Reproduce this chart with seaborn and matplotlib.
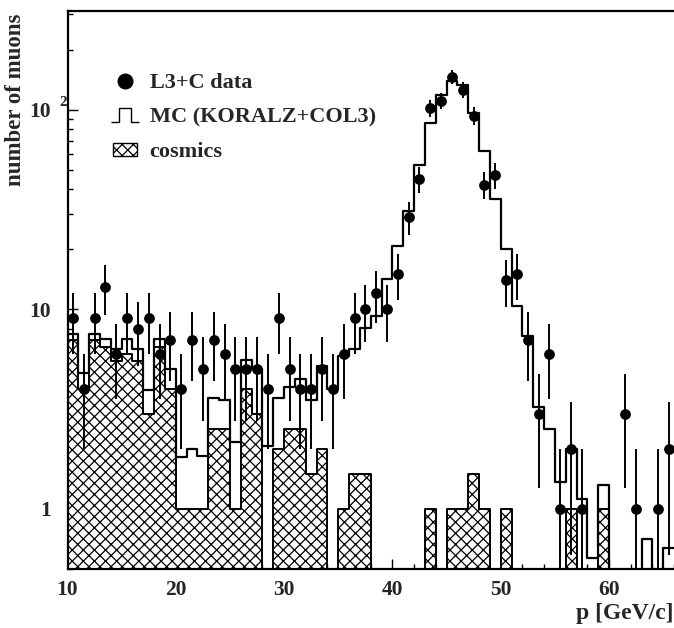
import numpy as np
import pandas as pd
import matplotlib
matplotlib.use("Agg")
import matplotlib.pyplot as plt
import matplotlib.transforms as mtransforms
import seaborn as sns
from matplotlib.lines import Line2D
from matplotlib.patches import Patch
from matplotlib.path import Path
from matplotlib.ticker import FixedLocator, MultipleLocator, LogLocator, NullFormatter, FixedFormatter

# ---------------- data (1 GeV/c bins from 10 to 66 GeV/c) ----------------
p_range = (10, 66)
bin_width = 1.0

data_counts = [9, 4, 9, 13, 6, 9, 8, 9, 6, 7,
               4, 7, 5, 7, 6, 5, 5, 5, 4, 9,
               5, 4, 4, 5, 4, 6, 9, 10, 12, 10,
               15, 29, 45, 102, 111, 146, 126, 93, 42, 47,
               14, 15, 7, 3, 6, 1, 2, 1, 0, 0,
               0, 3, 1, 0, 1, 2]

mc_counts = [7.5, 4.8, 7.5, 7.1, 6.3, 7.1, 6.3, 3.95, 7.1, 5.0,
             1.82, 2.0, 1.85, 3.6, 3.5, 2.17, 5.6, 5.0, 2.07, 3.6,
             4.1, 4.5, 3.5, 5.2, 4.0, 5.85, 6.3, 8.1, 9.3, 14.1,
             20.7, 31.0, 53.0, 86.0, 119.0, 139.0, 133.0, 96.0, 62.0, 35.5,
             20.0, 10.4, 7.35, 3.25, 2.5, 1.36, 2.0, 1.12, 0.57, 1.32,
             0, 0, 0, 0.71, 0, 0.64]

cosmic_counts = [7.0, 4.0, 7.0, 6.5, 5.5, 6.0, 5.5, 3.0, 6.5, 4.0,
                 1.0, 1.0, 1.0, 2.5, 2.5, 1.0, 4.0, 3.0, 0, 2.0,
                 2.5, 2.5, 1.5, 2.0, 0, 1.0, 1.5, 1.5, 0, 0,
                 0, 0, 0, 1.0, 0, 1.0, 1.0, 1.5, 1.0, 0,
                 1.0, 0, 0, 0, 0, 0, 1.0, 0, 0, 1.0,
                 0, 0, 0, 0, 0, 0]

y_tick_values = [1, 10, 100]
y_tick_labels = ["1", "10", "10"]
x_tick_values = [10, 20, 30, 40, 50, 60]
legend_labels = ["L3+C data", "MC (KORALZ+COL3)", "cosmics"]

# ---------------- style ----------------
sns.set_style("ticks")
plt.rcParams["font.family"] = ["Liberation Serif", "DejaVu Serif"]
plt.rcParams["font.weight"] = "bold"
plt.rcParams["hatch.linewidth"] = 0.9
FS_TICK = 15.5
FS_LEG = 16
FS_XLAB = 17
FS_YLAB = 16.5

W, H = 674, 628
fig = plt.figure(figsize=(W / 100, H / 100), dpi=100)
ax = fig.add_axes([67.5 / W, 59 / H, 606.5 / W, 558 / H])

n_bins = len(data_counts)
centers = p_range[0] + bin_width * (np.arange(n_bins) + 0.5)
df = pd.DataFrame({"p": centers,
                   "data": np.asarray(data_counts, dtype=float),
                   "mc": np.asarray(mc_counts, dtype=float),
                   "cos": np.asarray(cosmic_counts, dtype=float)})

# cosmics: hatched step histogram
sns.histplot(data=df, x="p", weights="cos", binwidth=bin_width, binrange=p_range,
             element="step", fill=True, facecolor="white", edgecolor="black",
             alpha=1, linewidth=1.4, hatch="xxx", ax=ax, zorder=2)

# MC: open step histogram
sns.histplot(data=df, x="p", weights="mc", binwidth=bin_width, binrange=p_range,
             element="step", fill=False, color="black", linewidth=1.6, ax=ax, zorder=3)

# data points with Poisson errors
dd = df[df["data"] > 0]
ax.errorbar(dd["p"], dd["data"], yerr=np.sqrt(dd["data"]), fmt="none",
            ecolor="black", elinewidth=1.4, capsize=0, zorder=4)
sns.scatterplot(data=dd, x="p", y="data", color="black", s=60, marker="o",
                edgecolor="black", linewidth=0, ax=ax, zorder=5, legend=False)

ax.set_yscale("log", nonpositive="clip")
ax.set_xlim(*p_range)
ax.set_ylim(0.5, 312)

# ticks
ax.yaxis.set_major_locator(FixedLocator(y_tick_values))
ax.yaxis.set_major_formatter(FixedFormatter(y_tick_labels))
ax.yaxis.set_minor_locator(LogLocator(base=10, subs=np.arange(2, 10)))
ax.yaxis.set_minor_formatter(NullFormatter())
ax.xaxis.set_major_locator(FixedLocator(x_tick_values))
ax.xaxis.set_minor_locator(MultipleLocator(2))
ax.tick_params(which="both", direction="in", top=False, right=False, width=1.0, color="black")
ax.tick_params(which="major", length=7)
ax.tick_params(which="minor", length=3.5)
ax.tick_params(axis="y", which="major", pad=12, labelsize=FS_TICK)
ax.tick_params(axis="x", which="major", pad=8, labelsize=FS_TICK)
for lab in ax.get_xticklabels() + ax.get_yticklabels():
    lab.set_fontweight("bold")

trans = mtransforms.blended_transform_factory(ax.transAxes, ax.transData)
ax.annotate("2", xy=(0, 100), xycoords=trans, xytext=(-1, 7),
            textcoords="offset pixels", ha="right", va="center",
            fontsize=11, fontweight="bold")

for s in ["left", "bottom", "top"]:
    ax.spines[s].set_linewidth(1.6)
    ax.spines[s].set_color("black")
ax.spines["right"].set_visible(False)

ax.set_xlabel("")
ax.set_ylabel("")
fig.text(673 / W, 1 - 613 / H, "p [GeV/c]", ha="right", va="center",
         fontsize=FS_XLAB, fontweight="bold")
fig.text(16 / W, 1 - 14 / H, "number of muons", rotation=90, ha="center",
         va="top", fontsize=FS_YLAB, fontweight="bold")

# legend
step_path = Path([(-1.0, -0.5), (-0.45, -0.5), (-0.45, 0.5), (0.45, 0.5),
                  (0.45, -0.5), (1.0, -0.5)],
                 [Path.MOVETO, Path.LINETO, Path.LINETO, Path.LINETO,
                  Path.LINETO, Path.LINETO])
handles = [
    Line2D([], [], marker="o", ls="none", color="black", markersize=10.5),
    Line2D([], [], marker=step_path, ls="none", color="black", markersize=20,
           markerfacecolor="none", markeredgewidth=1.0),
    Patch(facecolor="white", edgecolor="black", hatch="xxx", linewidth=1.0),
]
leg = ax.legend(handles, legend_labels, loc="upper left",
                bbox_to_anchor=(113 / W, 1 - 73 / H), bbox_transform=fig.transFigure,
                frameon=False, borderpad=0, borderaxespad=0,
                handlelength=1.1, handleheight=0.55, handletextpad=0.55,
                labelspacing=0.66, prop={"weight": "bold", "size": FS_LEG})

fig.savefig("out.png", dpi=100)
